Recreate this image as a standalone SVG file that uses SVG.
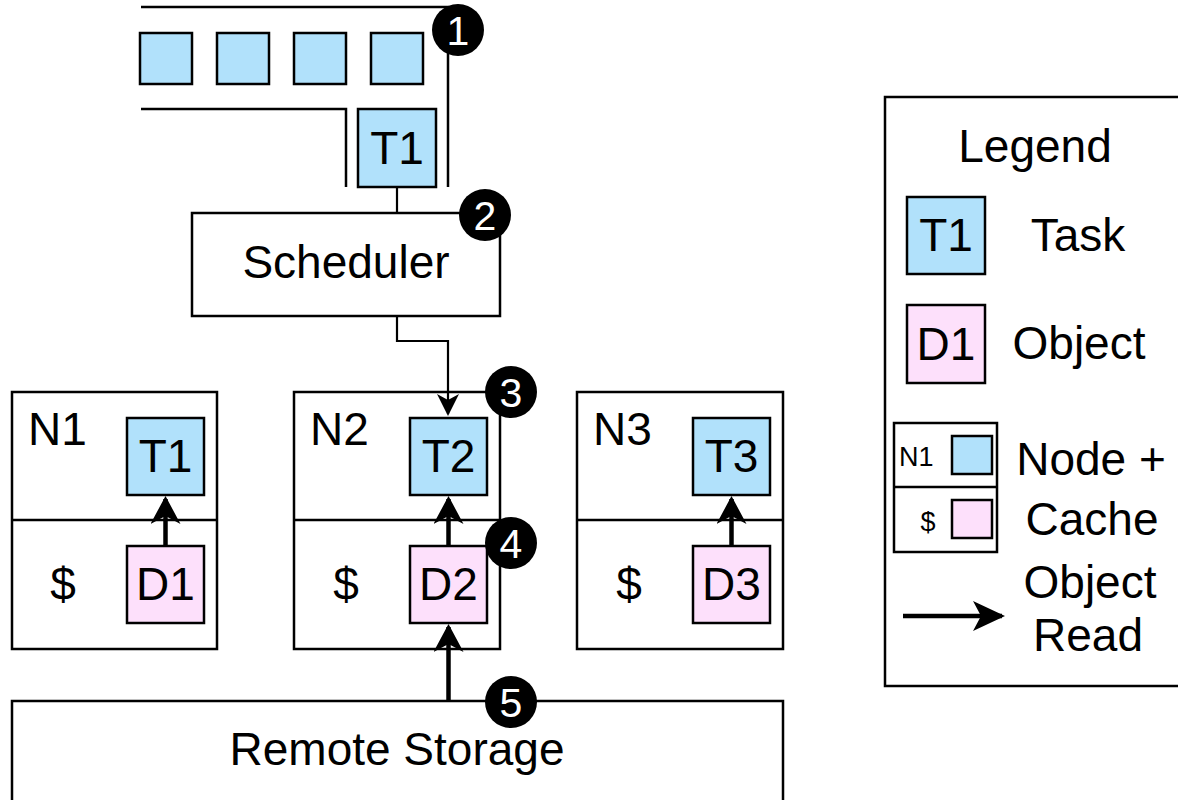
<svg xmlns="http://www.w3.org/2000/svg" width="1178" height="800" viewBox="0 0 1178 800">
<style>
  .box { fill: #ffffff; stroke: #000000; stroke-width: 2.5; }
  .task { fill: #b1e1fb; stroke: #000000; stroke-width: 2.5; }
  .obj { fill: #fde0fb; stroke: #000000; stroke-width: 2.5; }
  .wall { fill: none; stroke: #000000; stroke-width: 2.5; }
  .thin { fill: none; stroke: #000000; stroke-width: 2.2; }
  .thick { fill: none; stroke: #000000; stroke-width: 4.5; }
  .t { font-family: "Liberation Sans", Arial, sans-serif; font-size: 46px; fill: #000000; }
  .tc { text-anchor: middle; }
  .small { font-family: "Liberation Sans", Arial, sans-serif; font-size: 27px; fill: #000000; }
  .badge { fill: #000000; }
  .bt { font-family: "Liberation Sans", Arial, sans-serif; font-size: 41px; fill: #ffffff; text-anchor: middle; }
</style>
<defs>
  <marker id="thinArrow" markerUnits="userSpaceOnUse" markerWidth="22" markerHeight="22" viewBox="0 0 22 22" refX="20" refY="11" orient="auto">
    <path d="M0,0 L22,11 L0,22 L6,11 z" fill="#000000"/>
  </marker>
  <marker id="thickArrow" markerUnits="userSpaceOnUse" markerWidth="28" markerHeight="30" viewBox="0 0 28 30" refX="25" refY="15" orient="auto">
    <path d="M0,0 L28,15 L0,30 L8,15 z" fill="#000000"/>
  </marker>
  <marker id="legendArrow" markerUnits="userSpaceOnUse" markerWidth="32" markerHeight="30" viewBox="0 0 32 30" refX="29" refY="15" orient="auto">
    <path d="M0,0 L32,15 L0,30 L8,15 z" fill="#000000"/>
  </marker>
</defs>
<rect width="1178" height="800" fill="#ffffff"/>

<!-- Queue -->
<g id="queue">
  <polyline class="wall" points="141,7 448,7 448,187"/>
  <polyline class="wall" points="141,109 346,109 346,187"/>
  <rect class="task" x="140" y="33" width="52" height="51"/>
  <rect class="task" x="217" y="33" width="52" height="51"/>
  <rect class="task" x="294" y="33" width="52" height="51"/>
  <rect class="task" x="371" y="33" width="52" height="51"/>
</g>
<g id="queue-t1">
  <rect class="task" x="358" y="109" width="78" height="78"/>
  <text class="t tc" x="397" y="164">T1</text>
</g>

<!-- Scheduler -->
<g id="scheduler">
  <rect class="box" x="192" y="213" width="308" height="103"/>
  <text class="t tc" x="346" y="278">Scheduler</text>
</g>

<!-- Nodes -->
<g id="node-n1">
  <rect class="box" x="12" y="392" width="205" height="257"/>
  <line class="wall" x1="12" y1="520" x2="217" y2="520"/>
  <text class="t" x="28" y="445">N1</text>
  <text class="t tc" x="63" y="600">$</text>
  <rect class="task" x="127" y="418" width="77" height="77"/>
  <text class="t tc" x="165.5" y="472">T1</text>
  <rect class="obj" x="127" y="546" width="77" height="77"/>
  <text class="t tc" x="165.5" y="600">D1</text>
</g>
<g id="node-n2">
  <rect class="box" x="294" y="392" width="206" height="257"/>
  <line class="wall" x1="294" y1="520" x2="500" y2="520"/>
  <text class="t" x="310" y="445">N2</text>
  <text class="t tc" x="346" y="600">$</text>
  <rect class="task" x="410" y="418" width="77" height="77"/>
  <text class="t tc" x="448.5" y="472">T2</text>
  <rect class="obj" x="410" y="546" width="77" height="77"/>
  <text class="t tc" x="448.5" y="600">D2</text>
</g>
<g id="node-n3">
  <rect class="box" x="577" y="392" width="206" height="257"/>
  <line class="wall" x1="577" y1="520" x2="783" y2="520"/>
  <text class="t" x="593" y="445">N3</text>
  <text class="t tc" x="629" y="600">$</text>
  <rect class="task" x="693" y="418" width="77" height="77"/>
  <text class="t tc" x="731.5" y="472">T3</text>
  <rect class="obj" x="693" y="546" width="77" height="77"/>
  <text class="t tc" x="731.5" y="600">D3</text>
</g>

<!-- Remote storage -->
<g id="remote-storage">
  <rect class="box" x="12" y="701" width="771" height="110"/>
  <text class="t tc" x="397" y="765">Remote Storage</text>
</g>

<!-- Connectors -->
<g id="connectors">
  <line class="thin" x1="397" y1="187" x2="397" y2="213"/>
  <polyline class="thin" points="397,316 397,341 448,341 448,414" marker-end="url(#thinArrow)"/>
  <line class="thick" x1="165.5" y1="546" x2="165.5" y2="499" marker-end="url(#thickArrow)"/>
  <line class="thick" x1="448.5" y1="546" x2="448.5" y2="499" marker-end="url(#thickArrow)"/>
  <line class="thick" x1="731.5" y1="546" x2="731.5" y2="499" marker-end="url(#thickArrow)"/>
  <line class="thick" x1="448.5" y1="701" x2="448.5" y2="627" marker-end="url(#thickArrow)"/>
</g>

<!-- Badges -->
<g id="badge-1"><circle class="badge" cx="458" cy="30" r="26"/><text class="bt" x="458" y="44.5">1</text></g>
<g id="badge-2"><circle class="badge" cx="485" cy="215" r="26"/><text class="bt" x="485" y="229.5">2</text></g>
<g id="badge-3"><circle class="badge" cx="511" cy="392" r="26"/><text class="bt" x="511" y="406.5">3</text></g>
<g id="badge-4"><circle class="badge" cx="511" cy="543" r="26"/><text class="bt" x="511" y="557.5">4</text></g>
<g id="badge-5"><circle class="badge" cx="511" cy="702" r="26"/><text class="bt" x="511" y="716.5">5</text></g>

<!-- Legend -->
<g id="legend">
  <rect class="box" x="885" y="97" width="310" height="589"/>
  <text class="t tc" x="1035" y="162">Legend</text>
  <rect class="task" x="907" y="197" width="78" height="77"/>
  <text class="t tc" x="946" y="251">T1</text>
  <text class="t tc" x="1078" y="251">Task</text>
  <rect class="obj" x="907" y="305" width="78" height="78"/>
  <text class="t tc" x="946" y="360">D1</text>
  <text class="t tc" x="1079" y="359">Object</text>
  <rect class="box" x="894" y="423" width="103" height="129"/>
  <line class="wall" x1="894" y1="487" x2="997" y2="487"/>
  <text class="small" x="899" y="466">N1</text>
  <text class="small" x="928" y="531" text-anchor="middle">$</text>
  <rect class="task" x="952" y="436" width="40" height="38"/>
  <rect class="obj" x="952" y="500" width="40" height="38"/>
  <text class="t tc" x="1091" y="475">Node +</text>
  <text class="t tc" x="1092" y="535">Cache</text>
  <line class="thick" x1="903" y1="616" x2="1002" y2="616" marker-end="url(#legendArrow)"/>
  <text class="t tc" x="1090" y="598">Object</text>
  <text class="t tc" x="1088" y="651">Read</text>
</g>
</svg>
